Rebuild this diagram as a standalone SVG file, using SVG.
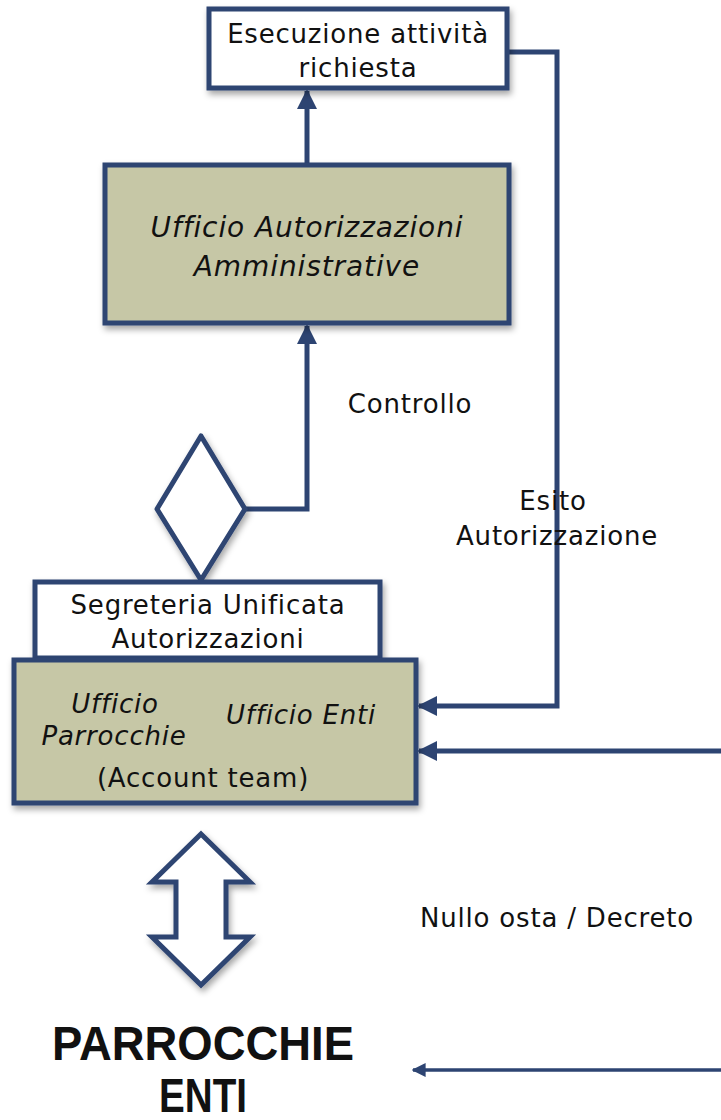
<svg xmlns="http://www.w3.org/2000/svg" width="721" height="1120" viewBox="0 0 721 1120">
  <style>
    .box { stroke: #2d4472; stroke-width: 5; }
    .white { fill: #ffffff; }
    .khaki { fill: #c6c7a6; }
    .conn { fill: none; stroke: #2d4472; stroke-width: 5; }
    .thin { fill: none; stroke: #2d4472; stroke-width: 3.5; }
    text { font-family: "DejaVu Sans", "Liberation Sans", sans-serif; fill: #111; font-size: 26px; letter-spacing: 0.8px; }
    .it { font-style: italic; }
    .big { font-size: 28px; letter-spacing: 0.9px; }
    .title { font-family: "Liberation Sans", sans-serif; font-weight: bold; font-size: 49px; letter-spacing: 0; }
  </style>
  <defs>
    <filter id="shadow" x="-10%" y="-10%" width="125%" height="130%">
      <feDropShadow dx="2" dy="4" stdDeviation="3" flood-color="#000" flood-opacity="0.35"/>
    </filter>
    <marker id="head" viewBox="0 0 10 10" refX="9" refY="5" markerWidth="4" markerHeight="4" orient="auto" markerUnits="strokeWidth">
      <path d="M0,0 L10,5 L0,10 z" fill="#2d4472"/>
    </marker>
    <marker id="headThin" viewBox="0 0 10 10" refX="9" refY="5" markerWidth="4" markerHeight="4" orient="auto" markerUnits="strokeWidth">
      <path d="M0,0 L10,5 L0,10 z" fill="#2d4472"/>
    </marker>
  </defs>

  <!-- connectors -->
  <g id="connectors">
    <path class="conn" d="M307,165 L307,91" marker-end="url(#head)"/>
    <path class="conn" d="M245,509 L307,509 L307,326" marker-end="url(#head)"/>
    <path class="conn" d="M509,52 L557,52 L557,706 L419,706" marker-end="url(#head)"/>
    <path class="conn" d="M721,751 L419,751" marker-end="url(#head)"/>
    <path class="thin" d="M721,1070 L413,1070" marker-end="url(#headThin)"/>
  </g>

  <!-- connector labels -->
  <g id="labels">
    <text x="410" y="413" text-anchor="middle">Controllo</text>
    <text x="553" y="510" text-anchor="middle">Esito</text>
    <text x="557" y="545" text-anchor="middle">Autorizzazione</text>
    <text x="557" y="927" text-anchor="middle">Nullo osta / Decreto</text>
  </g>

  <g id="esecuzione">
    <rect class="box white" x="209" y="9" width="298" height="79" filter="url(#shadow)"/>
    <text x="358" y="43" text-anchor="middle">Esecuzione attività</text>
    <text x="358" y="77" text-anchor="middle">richiesta</text>
  </g>

  <g id="ufficio-autorizzazioni">
    <rect class="box khaki" x="105" y="165" width="404" height="158" filter="url(#shadow)"/>
    <text class="it big" x="307" y="237" text-anchor="middle">Ufficio Autorizzazioni</text>
    <text class="it big" x="307" y="276" text-anchor="middle">Amministrative</text>
  </g>

  <g id="decisione">
    <polygon class="box white" points="201,436 245,509 201,580 157,509" stroke-linejoin="round" filter="url(#shadow)"/>
  </g>

  <g id="segreteria">
    <rect class="box white" x="35" y="582" width="345" height="76" filter="url(#shadow)"/>
    <text x="208" y="614" text-anchor="middle">Segreteria Unificata</text>
    <text x="208" y="648" text-anchor="middle">Autorizzazioni</text>
  </g>

  <g id="uffici">
    <rect class="box khaki" x="14" y="660" width="402" height="143" filter="url(#shadow)"/>
    <text class="it" x="115" y="713" text-anchor="middle">Ufficio</text>
    <text class="it" x="114" y="745" text-anchor="middle">Parrocchie</text>
    <text class="it" x="301" y="724" text-anchor="middle">Ufficio Enti</text>
    <text x="203" y="787" text-anchor="middle">(Account team)</text>
  </g>

  <g id="doppia-freccia">
    <polygon class="box white" points="201,834 250,882 226,882 226,937 250,937 201,985 152,937 176,937 176,882 152,882" stroke-width="4.5" filter="url(#shadow)"/>
  </g>

  <g id="parrocchie-enti">
    <text class="title" x="203" y="1060" text-anchor="middle" textLength="302" lengthAdjust="spacingAndGlyphs">PARROCCHIE</text>
    <text class="title" x="203" y="1112" text-anchor="middle" textLength="88" lengthAdjust="spacingAndGlyphs">ENTI</text>
  </g>
</svg>
